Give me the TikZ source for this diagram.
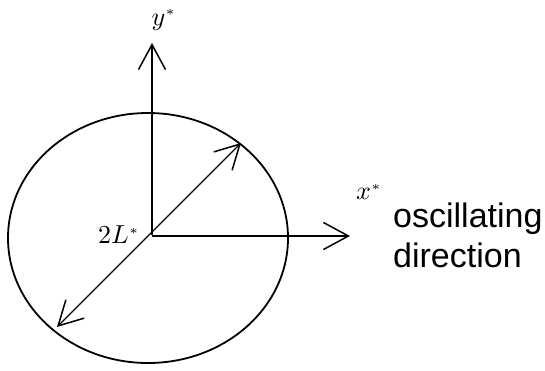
\documentclass[tikz,border=0pt]{standalone}
\usepackage{fontspec}
\newfontfamily\labelfont{Liberation Sans}
\usetikzlibrary{arrows.meta}
\newcommand{\biglbl}[1]{\scalebox{2.6}{#1}}
\begin{document}
\begin{tikzpicture}[x=1pt,y=-1pt,
  axis/.style={line width=1.3pt,-{Straight Barb[length=25pt,width=27pt,line width=1.5pt]}},
  dbl/.style={line width=1.3pt,{Straight Barb[length=24pt,width=26pt,line width=1.5pt]}-{Straight Barb[length=24pt,width=26pt,line width=1.5pt]}},
  mathlbl/.style={inner sep=0pt},
  txt/.style={inner sep=0pt,anchor=base west,font=\labelfont\fontsize{34}{40}\selectfont}]
\useasboundingbox (0,0) rectangle (545,370);
\coordinate (O) at (152,235);
\coordinate (ytip) at (152,43);
\coordinate (xtip) at (350,236);
\coordinate (dA) at (241,143);
\coordinate (dB) at (57,327);
\draw[line width=1.8pt] (148,238) ellipse [x radius=140pt, y radius=125pt];
\draw[axis] (O) -- (ytip);
\draw[axis] (O |- xtip) -- (xtip);
\draw[dbl] (dB) -- (dA);
\node[mathlbl] (ylab) at (164,20) {\biglbl{$y^{\scriptscriptstyle *}$}};
\node[mathlbl] (xlab) at (369,192) {\biglbl{$x^{\scriptscriptstyle *}$}};
\node[mathlbl,anchor=east] (llab) at (140,235) {\biglbl{$2L^{\scriptscriptstyle *}$}};
\node[txt] (osc1) at (393,227) {oscillating};
\node[txt] (osc2) at (393,267) {direction};
\end{tikzpicture}
\end{document}
